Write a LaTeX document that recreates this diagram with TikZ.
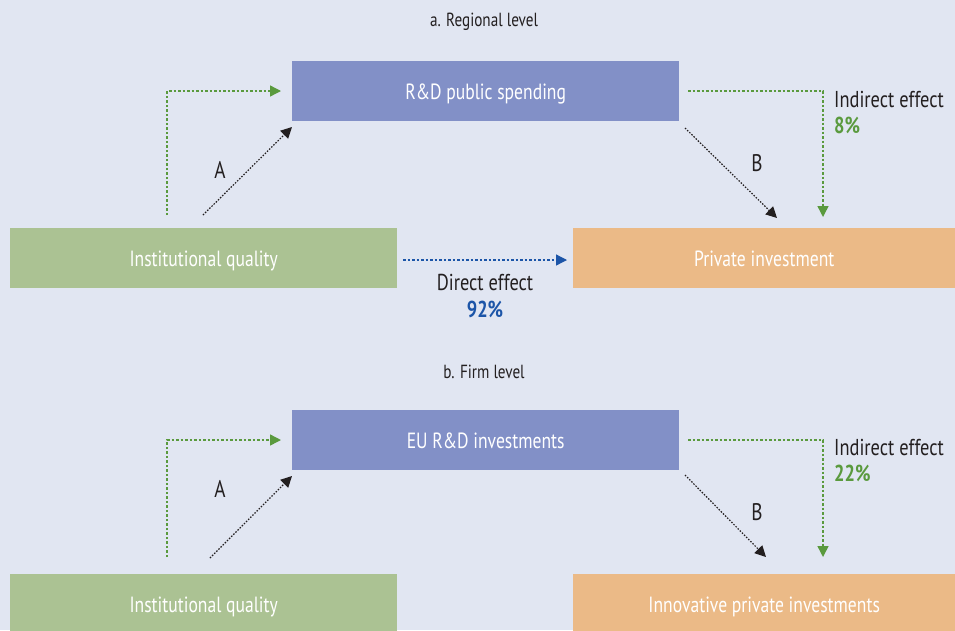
\documentclass[tikz,border=0pt]{standalone}
\usepackage{fontspec}
\setmainfont{PT Sans}[FakeStretch=0.8]
\usetikzlibrary{arrows.meta}
\definecolor{bgc}{HTML}{E1E6F2}
\definecolor{boxblue}{HTML}{8290C7}
\definecolor{boxgreen}{HTML}{ABC293}
\definecolor{boxorange}{HTML}{EBBA87}
\definecolor{lgreen}{HTML}{5A9A3E}
\definecolor{lblue}{HTML}{1C55A8}
\definecolor{txt}{HTML}{231F20}
\tikzset{
  box/.style={fill=#1, draw=none, minimum height=60pt, inner sep=0pt, text height=19pt, text depth=2pt, text=white, font=\fontsize{22}{26}\selectfont, anchor=north west},
  title/.style={text=txt, font=\fontsize{19}{22}\selectfont},
  lbl/.style={text=txt, font=\fontsize{24}{28}\selectfont},
  eff/.style={text=txt, font=\fontsize{23}{24}\selectfont, align=left, anchor=north west, inner sep=0pt},
  blackarrow/.style={draw=txt, line width=1.2pt, dash pattern=on 1.5pt off 1.5pt, -{Triangle[length=11pt,width=11pt]}},
  greenarrow/.style={draw=lgreen, line width=1.4pt, dash pattern=on 2.5pt off 2pt, -{Triangle[length=11pt,width=11pt]}},
  bluearrow/.style={draw=lblue, line width=1.3pt, dash pattern=on 2.5pt off 2pt, -{Triangle[length=11pt,width=11pt]}},
}
\begin{document}
\begin{tikzpicture}[x=1pt,y=-1pt]
\fill[bgc] (0,0) rectangle (955,630);
\useasboundingbox (0,0) rectangle (955,630);

% ---------- a. Regional level
\node[title] (ta) at (484,22) {a. Regional level};
\node[box=boxblue, minimum width=387pt] (rd) at (292,61) {R\&D public spending};
\node[box=boxgreen, minimum width=387pt] (iq) at (10,228) {Institutional quality};
\node[box=boxorange, minimum width=382pt] (pi) at (573,228) {Private investment};

\coordinate (ga1) at (167,215);
\coordinate (ga2) at (167,91);
\coordinate (ga3) at (281,91);
\draw[greenarrow] (ga1) -- (ga2) -- (ga3);

\coordinate (aa1) at (203,215);
\coordinate (aa2) at (292,127);
\draw[blackarrow] (aa1) -- (aa2);
\node[lbl] (la) at (220,170) {A};

\coordinate (ba1) at (685,128);
\coordinate (ba2) at (777,218);
\draw[blackarrow] (ba1) -- (ba2);
\node[lbl] (lb) at (757,163) {B};

\coordinate (gb1) at (688,91);
\coordinate (gb2) at (823,91);
\coordinate (gb3) at (823,217);
\draw[greenarrow] (gb1) -- (gb2) -- (gb3);
\node[eff] (ie1) at (834,91) {Indirect effect\\[2pt]\textcolor{lgreen}{\bfseries 8\%}};

\coordinate (da1) at (403,260);
\coordinate (da2) at (567,260);
\draw[bluearrow] (da1) -- (da2);
\node[text=txt, font=\fontsize{23}{24}\selectfont, align=center, anchor=north, inner sep=0pt] (de) at (485,274) {Direct effect\\[3pt]\textcolor{lblue}{\bfseries 92\%}};

% ---------- b. Firm level
\node[title] (tb) at (484,372) {b. Firm level};
\node[box=boxblue, minimum width=387pt] (eu) at (292,410) {EU R\&D investments};
\node[box=boxgreen, minimum width=387pt] (iq2) at (10,574) {Institutional quality};
\node[box=boxorange, minimum width=382pt] (ip) at (573,574) {Innovative private investments};

\coordinate (gc1) at (167,557);
\coordinate (gc2) at (167,440);
\coordinate (gc3) at (281,440);
\draw[greenarrow] (gc1) -- (gc2) -- (gc3);

\coordinate (ca1) at (210,558);
\coordinate (ca2) at (292,476);
\draw[blackarrow] (ca1) -- (ca2);
\node[lbl] (la2) at (220,489) {A};

\coordinate (cb1) at (685,475);
\coordinate (cb2) at (766,557);
\draw[blackarrow] (cb1) -- (cb2);
\node[lbl] (lb2) at (757,512) {B};

\coordinate (gd1) at (688,440);
\coordinate (gd2) at (823,440);
\coordinate (gd3) at (823,557);
\draw[greenarrow] (gd1) -- (gd2) -- (gd3);
\node[eff] (ie2) at (834,439) {Indirect effect\\[2pt]\textcolor{lgreen}{\bfseries 22\%}};
\end{tikzpicture}
\end{document}
